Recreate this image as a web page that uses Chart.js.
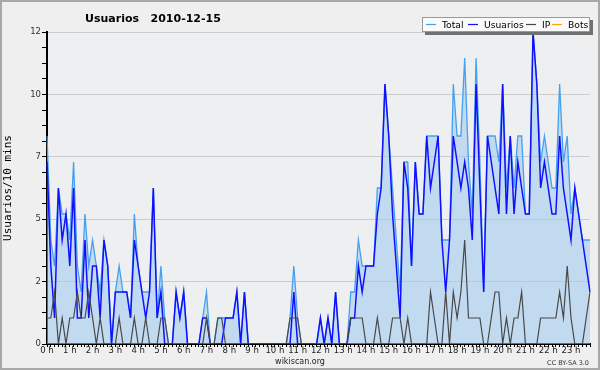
<!DOCTYPE html>
<html><head><meta charset="utf-8">
<script src="https://cdn.jsdelivr.net/npm/chart.js@4.4.0/dist/chart.umd.min.js"></script>
<style>html,body{margin:0;padding:0;background:#efefef;}canvas{display:block;}</style>
</head><body>
<canvas id="c" width="600" height="370"></canvas>
<script>
const chartTitle = 'Usuarios   2010-12-15';
const yAxisTitle = 'Usuarios/10 mins';
const footerText = 'wikiscan.org';
const licenseText = 'CC BY-SA 3.0';
const hourLabels = ['0 h','1 h','2 h','3 h','4 h','5 h','6 h','7 h','8 h','9 h','10 h','11 h',
  '12 h','13 h','14 h','15 h','16 h','17 h','18 h','19 h','20 h','21 h','22 h','23 h'];
const yTickValues = [0, 2.4, 4.8, 7.2, 9.6, 12];
const yTickLabels = ['0', '2', '5', '7', '10', '12'];
const seriesNames = ['Total', 'Usuarios', 'IP', 'Bots'];

const total = [
8,4,3,6,5,5,4,7,3,2,
5,3,4,3,2,4,3,0,2,3,
2,2,1,5,3,2,2,2,6,1,
3,1,0,0,2,1,2,0,0,0,
0,1,2,0,0,1,1,1,1,1,
2,0,2,0,0,0,0,0,0,0,
0,0,0,0,1,3,1,0,0,0,
0,0,1,0,1,0,2,0,0,0,
2,2,4,3,3,3,3,6,6,10,
8,6,4,2,7,7,3,7,5,5,
8,8,8,8,4,4,4,10,8,8,
11,7,5,11,7,2,8,8,8,7,
10,6,8,6,8,8,5,5,12,10,
7,8,7,6,6,10,7,8,5,6,
5,4,4,4];
const usuarios = [
7,3,1,6,4,5,3,6,1,1,
4,1,3,3,1,4,3,0,2,2,
2,2,1,4,3,2,1,2,6,1,
2,0,0,0,2,1,2,0,0,0,
0,1,1,0,0,0,0,1,1,1,
2,0,2,0,0,0,0,0,0,0,
0,0,0,0,0,2,0,0,0,0,
0,0,1,0,1,0,2,0,0,0,
1,1,3,2,3,3,3,5,6,10,
8,5,3,1,7,6,3,7,5,5,
8,6,7,8,4,2,4,8,7,6,
7,6,4,10,6,2,8,7,6,5,
10,5,8,5,7,6,5,5,12,10,
6,7,6,5,5,8,6,5,4,6,
5,4,3,2];
const ip = [
1,1,2,0,1,0,1,1,2,1,
1,2,1,0,1,0,0,0,0,1,
0,0,0,1,0,0,1,0,0,0,
1,1,0,0,0,0,0,0,0,0,
0,0,1,0,0,1,1,0,0,0,
0,0,0,0,0,0,0,0,0,0,
0,0,0,0,1,1,1,0,0,0,
0,0,0,0,0,0,0,0,0,0,
1,1,1,1,0,0,0,1,0,0,
0,1,1,1,0,1,0,0,0,0,
0,2,1,0,0,2,0,2,1,2,
4,1,1,1,1,0,0,1,2,2,
0,1,0,1,1,2,0,0,0,0,
1,1,1,1,1,2,1,3,1,0,
0,0,1,2];
const bots = [];

const slots = [];
for (let h = 0; h < 24; h++) for (let m = 0; m < 60; m += 10) slots.push(h + ':' + String(m).padStart(2, '0'));

const colors = { total: '#45a0f0', fill: 'rgba(158,201,239,0.55)', usuarios: '#1010ff', ip: '#484848', bots: '#ffa500' };

const decor = {
  id: 'decor',
  beforeDraw(chart) {
    const c = chart.ctx, a = chart.chartArea;
    c.save();
    c.fillStyle = '#efefef';
    c.fillRect(0, 0, chart.width, chart.height);
    c.fillStyle = '#eeeff1';
    c.fillRect(a.left, a.top, a.right - a.left, a.bottom - a.top);
    c.strokeStyle = '#a8a8a8';
    c.lineWidth = 2;
    c.strokeRect(1, 1, chart.width - 2, chart.height - 2);
    c.restore();
  },
  afterDraw(chart) {
    const c = chart.ctx;
    c.save();
    c.fillStyle = '#000';
    c.textBaseline = 'alphabetic';
    c.textAlign = 'left';
    c.font = 'bold 11px "DejaVu Sans"';
    c.fillText(chartTitle, 85, 21.5);
    c.font = '8px "DejaVu Sans"';
    c.fillStyle = '#222';
    c.textAlign = 'center';
    c.fillText(footerText, 300, 364);
    c.font = '6.5px "DejaVu Sans"';
    c.textAlign = 'right';
    c.fillStyle = '#333';
    c.fillText(licenseText, 589, 365);
    // legend box
    c.fillStyle = '#707070';
    c.fillRect(425, 20, 168, 15);
    c.fillStyle = '#fafafa';
    c.fillRect(422, 17, 168, 15);
    c.strokeStyle = '#999';
    c.lineWidth = 1;
    c.strokeRect(422.5, 17.5, 167, 14);
    const items = [
      { name: seriesNames[0], col: colors.total, x: 426 },
      { name: seriesNames[1], col: colors.usuarios, x: 468 },
      { name: seriesNames[2], col: colors.ip, x: 526 },
      { name: seriesNames[3], col: colors.bots, x: 552 }
    ];
    c.font = '9.2px "DejaVu Sans"';
    c.textAlign = 'left';
    items.forEach(it => {
      c.strokeStyle = it.col;
      c.lineWidth = 1.2;
      c.beginPath(); c.moveTo(it.x, 24.5); c.lineTo(it.x + 10, 24.5); c.stroke();
      c.fillStyle = '#000';
      c.fillText(it.name, it.x + 16, 28.3);
    });
    c.restore();
  }
};

new Chart(document.getElementById('c'), {
  type: 'line',
  data: {
    labels: slots,
    datasets: [
      { label: seriesNames[3], data: bots, borderColor: colors.bots, borderWidth: 1.2, pointRadius: 0, fill: false, order: 0 },
      { label: seriesNames[2], data: ip, borderColor: colors.ip, borderWidth: 1.2, pointRadius: 0, fill: false, order: 1 },
      { label: seriesNames[1], data: usuarios, borderColor: colors.usuarios, borderWidth: 1.5, pointRadius: 0, fill: false, order: 2 },
      { label: seriesNames[0], data: total, borderColor: colors.total, backgroundColor: colors.fill, borderWidth: 1.3, pointRadius: 0, fill: 'origin', order: 3 }
    ]
  },
  options: {
    responsive: false,
    animation: false,
    devicePixelRatio: 1,
    layout: { padding: { top: 32, right: 10, bottom: 0, left: 0 } },
    plugins: { legend: { display: false }, title: { display: false }, tooltip: { enabled: false } },
    elements: { line: { tension: 0 } },
    scales: {
      x: {
        type: 'category',
        offset: false,
        z: 1,
        afterFit(s) { s.height = 26; },
        grid: { display: true, drawOnChartArea: false, tickLength: 3, tickColor: '#000', tickWidth: 1 },
        border: { display: true, color: '#000', width: 2 },
        ticks: {
          autoSkip: false, maxRotation: 0, minRotation: 0, padding: 0,
          color: '#222', font: { family: 'DejaVu Sans', size: 8.5, lineHeight: 1 },
          callback(v, i) { return i % 6 === 0 ? hourLabels[i / 6] : ''; }
        }
      },
      y: {
        min: 0, max: 12,
        afterFit(s) { s.width = 47; },
        afterBuildTicks(s) {
          const t = [];
          for (let k = 0; k <= 20; k++) t.push({ value: +(k * 0.6).toFixed(4) });
          s.ticks = t;
        },
        grid: {
          color(ctx) {
            const v = ctx.tick ? ctx.tick.value : -1;
            return yTickValues.some(m => Math.abs(m - v) < 1e-6) ? '#cccccc' : 'rgba(0,0,0,0)';
          },
          tickColor: '#000', tickLength: 5, tickWidth: 1
        },
        border: { display: true, color: '#000', width: 2 },
        ticks: {
          autoSkip: false, padding: 1, color: '#333',
          font: { family: 'DejaVu Sans', size: 8.5 },
          callback(v) {
            const j = yTickValues.findIndex(m => Math.abs(m - v) < 1e-6);
            return j >= 0 ? yTickLabels[j] : '';
          }
        },
        title: { display: true, text: yAxisTitle, color: '#000', padding: { top: 2, bottom: 0 },
          font: { family: 'DejaVu Sans Mono', size: 11 } }
      }
    }
  },
  plugins: [decor]
});
</script>
</body></html>
